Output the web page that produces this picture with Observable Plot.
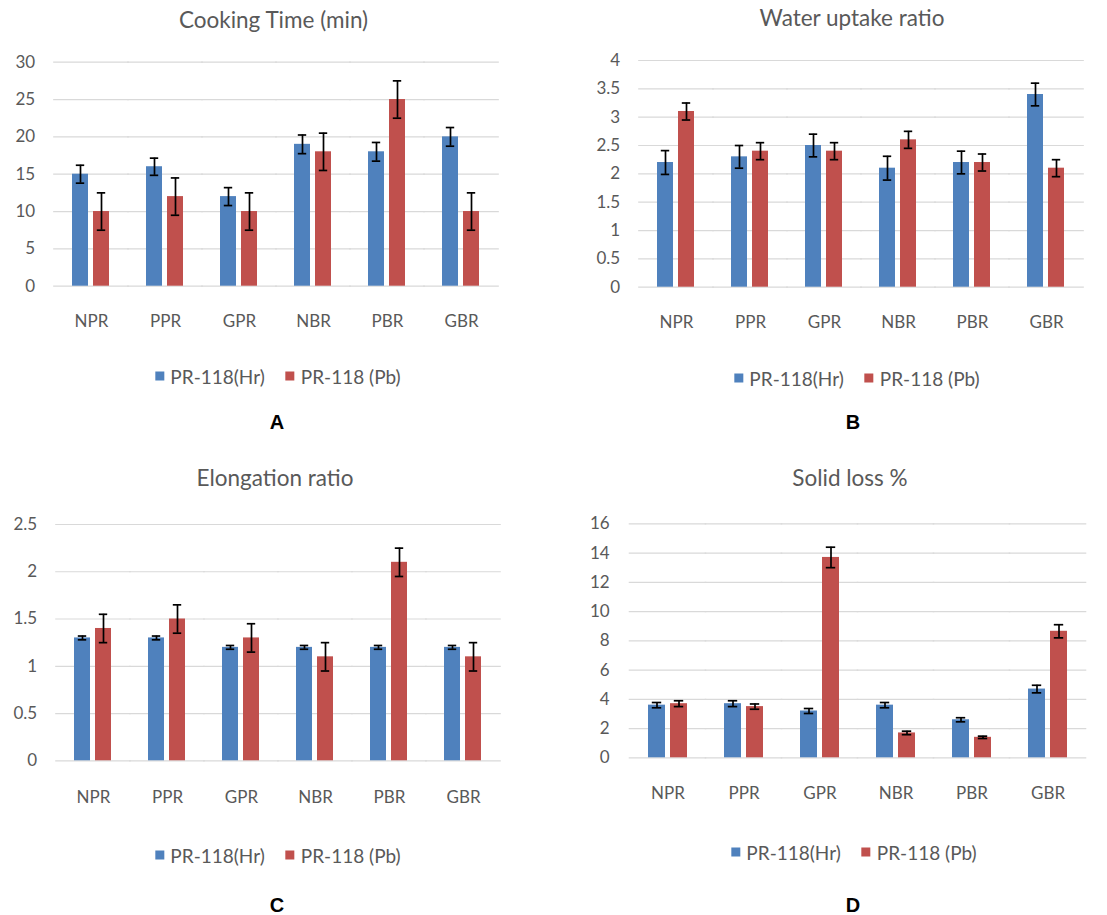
<!DOCTYPE html>
<html><head><meta charset="utf-8">
<script src="https://cdn.jsdelivr.net/npm/d3@7"></script>
<script src="https://cdn.jsdelivr.net/npm/@observablehq/plot@0.6"></script>
<style>
body{margin:0;background:#fff;}
#page{position:relative;width:1107px;height:915px;font-family:Lato,"Open Sans",sans-serif;color:#595959;overflow:hidden;background:#fff}
.title{position:absolute;font-size:22.5px;white-space:nowrap;transform:translate(-50%,-50%);line-height:1}
.legend{position:absolute;font-size:19px;white-space:nowrap;transform:translate(-50%,-50%);display:flex;align-items:center;line-height:1}
.sw{display:inline-block;width:9px;height:9px;margin-right:6px}
.gap{display:inline-block;width:21px}
.letter{position:absolute;font-family:"Liberation Sans",Arial,sans-serif;font-weight:bold;font-size:20px;color:#000;transform:translate(-50%,-50%);line-height:1}
.chart{position:absolute}
</style></head>
<body><div id="page"></div>
<script>
const categories = ["NPR", "PPR", "GPR", "NBR", "PBR", "GBR"];
const series = ["PR-118(Hr)", "PR-118 (Pb)"];
const seriesColors = ["#4F81BD", "#C0504D"];

const cookingHr = [15, 16, 12, 19, 18, 20];
const cookingHrErr = [1.2, 1.15, 1.2, 1.25, 1.25, 1.25];
const cookingPb = [10, 12, 10, 18, 25, 10];
const cookingPbErr = [2.5, 2.5, 2.5, 2.5, 2.5, 2.5];
const cookingTicks = [0, 5, 10, 15, 20, 25, 30];

const waterHr = [2.2, 2.3, 2.5, 2.1, 2.2, 3.4];
const waterHrErr = [0.21, 0.2, 0.2, 0.21, 0.2, 0.2];
const waterPb = [3.1, 2.4, 2.4, 2.6, 2.2, 2.1];
const waterPbErr = [0.15, 0.15, 0.15, 0.15, 0.15, 0.15];
const waterTicks = [0, 0.5, 1, 1.5, 2, 2.5, 3, 3.5, 4];

const elongHr = [1.3, 1.3, 1.2, 1.2, 1.2, 1.2];
const elongHrErr = [0.02, 0.02, 0.02, 0.02, 0.02, 0.02];
const elongPb = [1.4, 1.5, 1.3, 1.1, 2.1, 1.1];
const elongPbErr = [0.15, 0.15, 0.15, 0.15, 0.15, 0.15];
const elongTicks = [0, 0.5, 1, 1.5, 2, 2.5];

const solidHr = [3.6, 3.7, 3.2, 3.6, 2.6, 4.7];
const solidHrErr = [0.18, 0.2, 0.17, 0.18, 0.14, 0.26];
const solidPb = [3.7, 3.5, 13.7, 1.7, 1.4, 8.65];
const solidPbErr = [0.2, 0.18, 0.7, 0.12, 0.08, 0.45];
const solidTicks = [0, 2, 4, 6, 8, 10, 12, 14, 16];

const titles = ["Cooking Time (min)", "Water uptake ratio", "Elongation ratio", "Solid loss %"];
const letters = ["A", "B", "C", "D"];

const panels = [
  {hr: cookingHr, hrErr: cookingHrErr, pb: cookingPb, pbErr: cookingPbErr, ticks: cookingTicks,
   layout: {left: 0, top: 0, width: 555, height: 345, x0: 51, x1: 500, yTop: 61.7, y0: 285.7, labelGap: 19, catGap: 34.3,
            titleX: 273.5, titleY: 20, legendX: 278, legendY: 376, letterX: 277, letterY: 422}},
  {hr: waterHr, hrErr: waterHrErr, pb: waterPb, pbErr: waterPbErr, ticks: waterTicks,
   layout: {left: 555, top: 0, width: 552, height: 345, x0: 636, x1: 1085, yTop: 60, y0: 286.7, labelGap: 19, catGap: 35,
            titleX: 852, titleY: 18, legendX: 857, legendY: 378.3, letterX: 853, letterY: 422}},
  {hr: elongHr, hrErr: elongHrErr, pb: elongPb, pbErr: elongPbErr, ticks: elongTicks,
   layout: {left: 0, top: 440, width: 555, height: 380, x0: 54, x1: 502, yTop: 524, y0: 760.3, labelGap: 19, catGap: 36.4,
            titleX: 275, titleY: 478, legendX: 278, legendY: 855, letterX: 277, letterY: 905}},
  {hr: solidHr, hrErr: solidHrErr, pb: solidPb, pbErr: solidPbErr, ticks: solidTicks,
   layout: {left: 555, top: 440, width: 552, height: 380, x0: 627, x1: 1087, yTop: 523.3, y0: 757.3, labelGap: 20, catGap: 34.7,
            titleX: 850, titleY: 478, legendX: 854, legendY: 851.7, letterX: 853, letterY: 905}}
];

const page = document.getElementById("page");

panels.forEach((p, k) => {
  const L = p.layout;
  const table = [];
  categories.forEach((c, i) => {
    table.push({category: c, series: series[0], value: p.hr[i], err: p.hrErr[i]});
    table.push({category: c, series: series[1], value: p.pb[i], err: p.pbErr[i]});
  });
  const step = (L.x1 - L.x0) / categories.length;
  const outer = 0.245 * step;
  const chart = Plot.plot({
    width: L.width,
    height: L.height,
    marginLeft: L.x0 - L.left,
    marginRight: L.left + L.width - L.x1,
    marginTop: L.yTop - L.top,
    marginBottom: L.top + L.height - L.y0,
    facet: {data: table, x: "category"},
    fx: {domain: categories, paddingInner: 0.49, paddingOuter: 0.245, axis: "bottom", label: null, tickSize: 0, tickPadding: L.catGap - 6},
    x: {domain: series, axis: null, paddingInner: 0.23, paddingOuter: 0},
    y: {domain: [0, p.ticks[p.ticks.length - 1]], axis: null},
    color: {domain: series, range: seriesColors},
    style: {fontFamily: "Lato, 'Open Sans', sans-serif", fontSize: "17px", color: "#595959", background: "transparent", overflow: "visible"},
    marks: [
      Plot.ruleY(p.ticks, {stroke: "#D9D9D9", strokeWidth: 1.2, insetLeft: -(outer + 0.5), insetRight: -(outer + 0.5)}),
      Plot.axisY({ticks: p.ticks, tickFormat: d => String(d), tickSize: 0, tickPadding: outer + L.labelGap, label: null, fill: "#595959"}),
      Plot.barY(table, {x: "series", y: "value", fill: "series"}),
      Plot.ruleX(table, {x: "series", y1: d => d.value - d.err, y2: d => d.value + d.err, stroke: "#000", strokeWidth: 1.7}),
      Plot.tickY(table, {x: "series", y: d => d.value - d.err, stroke: "#000", strokeWidth: 1.7, insetLeft: 3.8, insetRight: 3.8}),
      Plot.tickY(table, {x: "series", y: d => d.value + d.err, stroke: "#000", strokeWidth: 1.7, insetLeft: 3.8, insetRight: 3.8})
    ]
  });
  chart.classList.add("chart");
  chart.style.left = L.left + "px";
  chart.style.top = L.top + "px";
  page.appendChild(chart);

  const t = document.createElement("div");
  t.className = "title";
  t.textContent = titles[k];
  t.style.left = L.titleX + "px";
  t.style.top = L.titleY + "px";
  page.appendChild(t);

  const lg = document.createElement("div");
  lg.className = "legend";
  lg.style.left = L.legendX + "px";
  lg.style.top = L.legendY + "px";
  series.forEach((s, i) => {
    if (i > 0) { const g = document.createElement("span"); g.className = "gap"; lg.appendChild(g); }
    const sw = document.createElement("span");
    sw.className = "sw";
    sw.style.background = seriesColors[i];
    lg.appendChild(sw);
    const tx = document.createElement("span");
    tx.textContent = s;
    lg.appendChild(tx);
  });
  page.appendChild(lg);

  const le = document.createElement("div");
  le.className = "letter";
  le.textContent = letters[k];
  le.style.left = L.letterX + "px";
  le.style.top = L.letterY + "px";
  page.appendChild(le);
});
</script>
</body></html>
